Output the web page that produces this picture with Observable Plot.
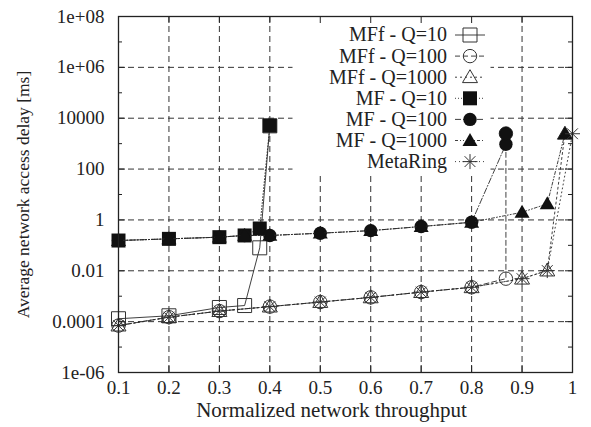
<!DOCTYPE html>
<html><head><meta charset="utf-8">
<script src="https://cdn.jsdelivr.net/npm/d3@7"></script>
<script src="https://cdn.jsdelivr.net/npm/@observablehq/plot@0.6"></script>
<style>html,body{margin:0;padding:0;background:#fff;} #chart{width:591px;height:427px;}</style>
</head><body><div id="chart"></div>
<script>
// ---- tick values and labels ----
const xTicks = [0.1, 0.2, 0.3, 0.4, 0.5, 0.6, 0.7, 0.8, 0.9, 1];
const xTickLabels = ["0.1", "0.2", "0.3", "0.4", "0.5", "0.6", "0.7", "0.8", "0.9", "1"];
const yTicks = [1e-6, 1e-4, 1e-2, 1, 1e2, 1e4, 1e6, 1e8];
const yTickLabels = ["1e-06", "0.0001", "0.01", "1", "100", "10000", "1e+06", "1e+08"];
const yMinorTicks = [1e-5, 1e-3, 1e-1, 1e1, 1e3, 1e5, 1e7];

// ---- series ----
const seriesNames = ["MFf - Q=10", "MFf - Q=100", "MFf - Q=1000", "MF - Q=10", "MF - Q=100", "MF - Q=1000", "MetaRing"];
const seriesMarkers = ["square", "circle", "triangle", "square", "circle", "triangle", "asterisk"];
const seriesFilled = [false, false, false, true, true, true, false];

const mffQ10X = [0.1, 0.2, 0.3, 0.35, 0.38, 0.4];
const mffQ10Y = [1.3e-4, 1.7e-4, 3.6e-4, 4.3e-4, 0.08, 5000];

const mffQ100X = [0.1, 0.2, 0.3, 0.4, 0.5, 0.6, 0.7, 0.8, 0.868, 0.868];
const mffQ100Y = [7e-5, 1.5e-4, 2.6e-4, 3.9e-4, 5.9e-4, 9e-4, 1.45e-3, 2.25e-3, 4.9e-3, 2500];

const mffQ1000X = [0.1, 0.2, 0.3, 0.4, 0.5, 0.6, 0.7, 0.8, 0.9, 0.95, 0.985];
const mffQ1000Y = [7e-5, 1.5e-4, 2.6e-4, 3.9e-4, 5.9e-4, 9e-4, 1.45e-3, 2.25e-3, 4.9e-3, 0.0102, 2450];

const mfQ10X = [0.1, 0.2, 0.3, 0.35, 0.38, 0.4];
const mfQ10Y = [0.155, 0.18, 0.21, 0.245, 0.46, 5100];

const mfQ100X = [0.1, 0.2, 0.3, 0.35, 0.4, 0.5, 0.6, 0.7, 0.8, 0.868, 0.868];
const mfQ100Y = [0.155, 0.18, 0.21, 0.245, 0.245, 0.3, 0.38, 0.55, 0.81, 950, 2500];

const mfQ1000X = [0.1, 0.2, 0.3, 0.35, 0.4, 0.5, 0.6, 0.7, 0.8, 0.9, 0.95, 0.985];
const mfQ1000Y = [0.155, 0.18, 0.21, 0.245, 0.245, 0.3, 0.38, 0.55, 0.81, 2.0, 4.3, 2450];

const metaRingX = [0.1, 0.2, 0.3, 0.4, 0.5, 0.6, 0.7, 0.8, 0.9, 0.95, 1.0];
const metaRingY = [7e-5, 1.5e-4, 2.6e-4, 3.9e-4, 5.9e-4, 9e-4, 1.45e-3, 2.25e-3, 4.9e-3, 0.0102, 2450];

const seriesX = [mffQ10X, mffQ100X, mffQ1000X, mfQ10X, mfQ100X, mfQ1000X, metaRingX];
const seriesY = [mffQ10Y, mffQ100Y, mffQ1000Y, mfQ10Y, mfQ100Y, mfQ1000Y, metaRingY];

// ---- styles ----
const dashes = [null, "5,3", "2,3", "1,2", "6,2,1,2", "3,2,1,2,1,2", "1,3"];
const markerR = {square: 7, circle: 6.7, triangle: 7.5, asterisk: 7.5};
const FONT = "'Liberation Serif', 'Times New Roman', serif";

function drawShape(ctx, kind, r) {
  if (kind === "square") { ctx.rect(-r, -r, 2 * r, 2 * r); }
  else if (kind === "circle") { ctx.moveTo(r, 0); ctx.arc(0, 0, r, 0, 2 * Math.PI); }
  else if (kind === "triangle") { ctx.moveTo(0, -r); ctx.lineTo(r, 0.72 * r); ctx.lineTo(-r, 0.72 * r); ctx.closePath(); }
  else {
    const k = r * 0.72;
    ctx.moveTo(-r, 0); ctx.lineTo(r, 0);
    ctx.moveTo(0, -r); ctx.lineTo(0, r);
    ctx.moveTo(-k, -k); ctx.lineTo(k, k);
    ctx.moveTo(-k, k); ctx.lineTo(k, -k);
  }
}
const symbolOf = kind => ({draw(ctx, size) { drawShape(ctx, kind, Math.sqrt(size / Math.PI)); }});

const xLabelMap = new Map(xTicks.map((d, i) => [d, xTickLabels[i]]));
const yLabelMap = new Map(yTicks.map((d, i) => [d, yTickLabels[i]]));

const marginLeft = 118, marginRight = 19, marginTop = 16, marginBottom = 55;
const W = 591, H = 427;
const plotW = W - marginLeft - marginRight, plotH = H - marginTop - marginBottom;

const seriesMarks = [];
seriesNames.forEach((name, s) => {
  const rows = seriesX[s].map((x, i) => ({x, y: seriesY[s][i]}));
  seriesMarks.push(Plot.line(rows, {x: "x", y: "y", stroke: "#2a2a2a", strokeWidth: 0.9, strokeDasharray: dashes[s]}));
  const kind = seriesMarkers[s];
  seriesMarks.push(Plot.dot(rows, {x: "x", y: "y", r: markerR[kind], symbol: symbolOf(kind),
    fill: seriesFilled[s] ? "#111" : "none",
    stroke: seriesFilled[s] ? "none" : "#333", strokeWidth: 1}));
});

const gridStyle = {stroke: "#333", strokeOpacity: 1, strokeWidth: 1, strokeDasharray: "6,4"};

const svg = Plot.plot({
  width: W, height: H, marginLeft, marginRight, marginTop, marginBottom,
  style: {fontFamily: FONT, fontSize: "19px", background: "#fff", color: "#222"},
  x: {domain: [0.1, 1]},
  y: {type: "log", domain: [1e-6, 1e8]},
  marks: [
    Plot.gridX(xTicks.slice(1, -1), gridStyle),
    Plot.gridY(yTicks.slice(1, -1), gridStyle),
    Plot.frame({fill: "#fff", stroke: "none", insetLeft: 174, insetRight: 82, insetBottom: 197}),
    Plot.tickY(yTicks, {y: d => d, stroke: "#222", insetRight: plotW - 7}),
    Plot.tickY(yTicks, {y: d => d, stroke: "#222", insetLeft: plotW - 7}),
    Plot.tickY(yMinorTicks, {y: d => d, stroke: "#222", insetRight: plotW - 4}),
    Plot.tickY(yMinorTicks, {y: d => d, stroke: "#222", insetLeft: plotW - 4}),
    Plot.tickX(xTicks, {x: d => d, stroke: "#222", insetTop: plotH - 7}),
    Plot.tickX(xTicks, {x: d => d, stroke: "#222", insetBottom: plotH - 7}),
    Plot.axisX(xTicks, {tickSize: 0, tickPadding: 8, tickFormat: d => xLabelMap.get(d), label: null, fontSize: 19}),
    Plot.axisY(yTicks, {tickSize: 0, tickPadding: 14, tickFormat: d => yLabelMap.get(d), label: null, fontSize: 19}),
    Plot.text(["Normalized network throughput"], {frameAnchor: "bottom", textAnchor: "middle", dy: 44, dx: -14, fontSize: 21, fill: "#222"}),
    Plot.text(["Average network access delay [ms]"], {frameAnchor: "left", textAnchor: "middle", rotate: -90, dx: -95, dy: 0, fontSize: 17.5, fill: "#222"}),
    ...seriesMarks,
    Plot.frame({stroke: "#222", strokeWidth: 1.3})
  ]
});

// ---- legend (inside the plot, top right) ----
const lg = d3.select(svg).append("g").attr("font-family", FONT).attr("font-size", 20);
seriesNames.forEach((name, s) => {
  const yy = 35 + s * 21.1;
  lg.append("text").attr("x", 447).attr("y", yy).attr("dy", "0.32em")
    .attr("text-anchor", "end").attr("fill", "#222").text(name);
  lg.append("line").attr("x1", 455).attr("x2", 485).attr("y1", yy).attr("y2", yy)
    .attr("stroke", "#2a2a2a").attr("stroke-width", 0.9)
    .attr("stroke-dasharray", dashes[s]);
  const p = d3.path();
  const kind = seriesMarkers[s];
  drawShape(p, kind, markerR[kind]);
  lg.append("path").attr("transform", `translate(470,${yy})`).attr("d", p.toString())
    .attr("fill", seriesFilled[s] ? "#111" : "none")
    .attr("stroke", seriesFilled[s] ? "none" : "#333").attr("stroke-width", 1);
});

document.getElementById("chart").appendChild(svg);
</script>
</body></html>
